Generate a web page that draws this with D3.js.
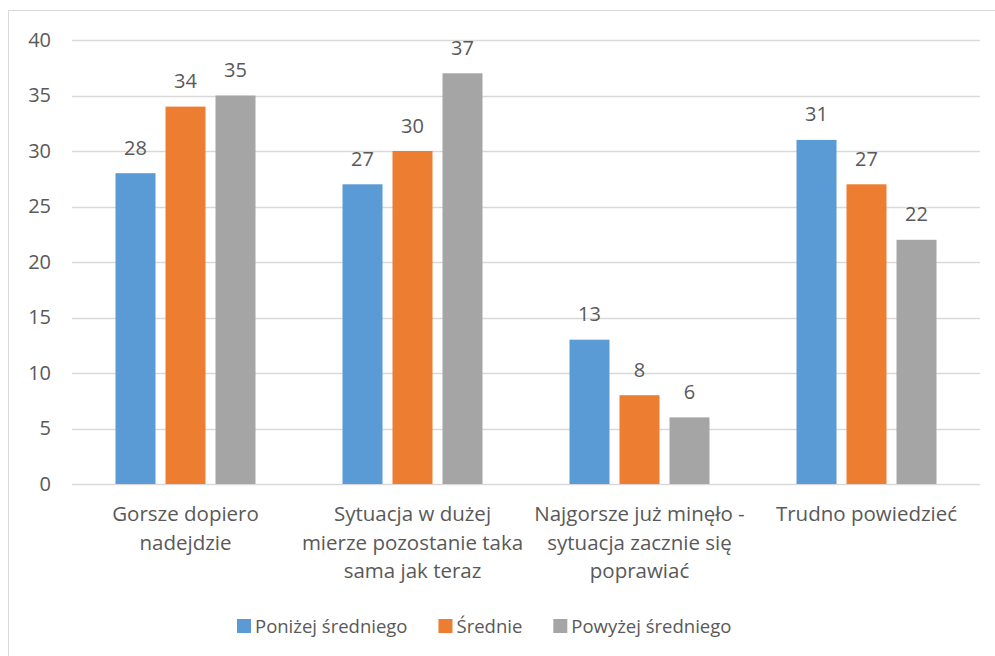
<!DOCTYPE html>
<html>
<head>
<meta charset="utf-8">
<script src="https://cdn.jsdelivr.net/npm/d3@7"></script>
<style>
  body { margin: 0; background: #fff; }
  text { font-family: "Open Sans", sans-serif; fill: #595959; }
</style>
</head>
<body>
<div id="chart"></div>
<script>
// categories (line breaks as in the original)
var categories = [
  ["Gorsze dopiero", "nadejdzie"],
  ["Sytuacja w dużej", "mierze pozostanie taka", "sama jak teraz"],
  ["Najgorsze już minęło -", "sytuacja zacznie się", "poprawiać"],
  ["Trudno powiedzieć"]
];
var seriesNames = ["Poniżej średniego", "Średnie", "Powyżej średniego"];
var seriesColors = ["#5B9BD5", "#ED7D31", "#A5A5A5"];
var belowAvg = [28, 27, 13, 31];
var average = [34, 30, 8, 27];
var aboveAvg = [35, 37, 6, 22];
var yTicks = [0, 5, 10, 15, 20, 25, 30, 35, 40];

var W = 995, H = 656;
var svg = d3.select("#chart").append("svg")
  .attr("width", W).attr("height", H);

// outer chart border
svg.append("rect")
  .attr("x", 8.5).attr("y", 10.5)
  .attr("width", W - 8).attr("height", H)
  .attr("fill", "none").attr("stroke", "#D9D9D9");

var catKeys = categories.map(function(d, i) { return i; });
var x0 = d3.scaleBand().domain(catKeys).range([72, 980]).padding(0);
var x1 = d3.scaleBand().domain([0, 1, 2]).range([0, 140]).paddingInner(0.2);
var y = d3.scaleLinear().domain([0, 40]).range([484, 40]);

// gridlines
svg.append("g").selectAll("line").data(yTicks).enter().append("line")
  .attr("x1", 72).attr("x2", 980)
  .attr("y1", function(d) { return Math.round(y(d)) + 0.5; })
  .attr("y2", function(d) { return Math.round(y(d)) + 0.5; })
  .attr("stroke", "#D9D9D9").attr("stroke-width", 1.5);

// y axis labels
var yAxis = d3.axisLeft(y).tickValues(yTicks).tickSize(0).tickPadding(0);
var gy = svg.append("g").attr("transform", "translate(51,0)").call(yAxis);
gy.select(".domain").remove();
gy.selectAll("text").style("font-size", "20px").attr("fill", "#595959")
  .attr("font-family", "Open Sans");

var series = [belowAvg, average, aboveAvg];
var groupOff = (x0.bandwidth() - 140) / 2;

series.forEach(function(vals, s) {
  var g = svg.append("g");
  g.selectAll("rect").data(vals).enter().append("rect")
    .attr("x", function(d, i) { return x0(i) + groupOff + x1(s); })
    .attr("y", function(d) { return y(d); })
    .attr("width", x1.bandwidth())
    .attr("height", function(d) { return y(0) - y(d); })
    .attr("fill", seriesColors[s]);
  g.selectAll("text").data(vals).enter().append("text")
    .attr("x", function(d, i) { return x0(i) + groupOff + x1(s) + x1.bandwidth() / 2; })
    .attr("y", function(d) { return y(d) - 18.5; })
    .attr("text-anchor", "middle")
    .style("font-size", "20px")
    .text(function(d) { return d; });
});

// category labels
var cl = svg.append("g").selectAll("text").data(categories).enter().append("text")
  .attr("x", function(d, i) { return x0(i) + x0.bandwidth() / 2; })
  .attr("y", 521)
  .attr("text-anchor", "middle")
  .style("font-size", "20.5px");
cl.selectAll("tspan").data(function(d) { return d; }).enter().append("tspan")
  .attr("x", function() { return d3.select(this.parentNode).attr("x"); })
  .attr("dy", function(d, i) { return i === 0 ? 0 : 28.5; })
  .text(function(d) { return d; });

// legend
var legend = svg.append("g");
var lx = 237;
seriesNames.forEach(function(name, i) {
  legend.append("rect")
    .attr("x", lx).attr("y", 619).attr("width", 14).attr("height", 14)
    .attr("fill", seriesColors[i]);
  var t = legend.append("text")
    .attr("x", lx + 18).attr("y", 633)
    .style("font-size", "18.5px")
    .text(name);
  lx += 18 + t.node().getComputedTextLength() + 31;
});
</script>
</body>
</html>
